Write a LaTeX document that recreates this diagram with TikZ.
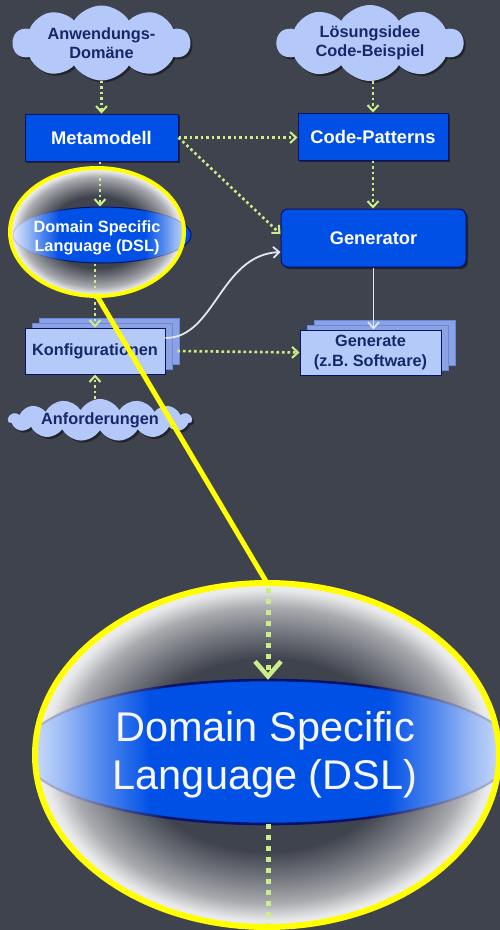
\documentclass[tikz,border=0pt]{standalone}
\usepackage{fontspec}
\setmainfont{Liberation Sans}
\usetikzlibrary{shapes.geometric,shapes.symbols,arrows.meta,shadows}

\definecolor{bgc}{RGB}{63,67,77}
\definecolor{cloudfill}{RGB}{180,200,250}
\definecolor{navytext}{RGB}{22,40,105}
\definecolor{boxblue}{RGB}{0,80,230}
\definecolor{boxedge}{RGB}{8,18,105}
\definecolor{stackfront}{RGB}{180,203,250}
\definecolor{stackback}{RGB}{140,162,225}
\definecolor{stackedge}{RGB}{100,135,232}
\definecolor{dotgreen}{RGB}{204,238,136}
\definecolor{flowwhite}{RGB}{225,230,242}
\definecolor{lensyellow}{RGB}{255,255,0}

% glassy ring of the magnifier: dark middle, bright rim
\pgfdeclareradialshading{lensring}{\pgfpointorigin}{%
  color(0bp)=(bgc); color(14bp)=(bgc); color(18bp)=(bgc!72!white);
  color(21.5bp)=(bgc!45!white); color(24bp)=(bgc!12!white);
  color(25bp)=(white!92!bgc); color(50bp)=(white!92!bgc)}
% DSL ellipse seen through the lens: blue core, washed-out ends
\pgfdeclarehorizontalshading{dslfade}{100bp}{%
  color(0bp)=(white!86!boxblue); color(25bp)=(white!86!boxblue);
  color(29bp)=(white!62!boxblue); color(33bp)=(white!32!boxblue);
  color(38bp)=(boxblue); color(62bp)=(boxblue);
  color(67bp)=(white!32!boxblue); color(71bp)=(white!62!boxblue);
  color(75bp)=(white!86!boxblue); color(100bp)=(white!86!boxblue)}
% outline of that ellipse, fading the same way
\pgfdeclarehorizontalshading{edgefade}{100bp}{%
  color(0bp)=(boxedge!25!white); color(25bp)=(boxedge!25!white);
  color(30bp)=(boxedge!45!white); color(36bp)=(boxedge!80!white);
  color(40bp)=(boxedge); color(60bp)=(boxedge);
  color(64bp)=(boxedge!80!white); color(70bp)=(boxedge!45!white);
  color(75bp)=(boxedge!25!white); color(100bp)=(boxedge!25!white)}

\tikzset{
  boxshadow/.style={drop shadow={shadow xshift=2pt,shadow yshift=-2pt,opacity=.45,fill=black}},
  bluebox/.style={rectangle, draw=boxedge, line width=1pt, fill=boxblue, text=white,
    font=\fontsize{18.3}{21}\selectfont\bfseries, inner sep=0pt, boxshadow},
  wolke/.style={cloud, cloud ignores aspect, fill=cloudfill, draw=none, text=navytext,
    font=\fontsize{16.3}{19}\selectfont\bfseries, align=center, inner sep=0pt, boxshadow},
  stapel/.style={rectangle, draw=boxedge, line width=1pt, fill=stackfront, text=navytext,
    font=\fontsize{16.3}{20}\selectfont\bfseries, align=center, inner sep=0pt,
    double copy shadow={shadow xshift=7pt,shadow yshift=5pt,fill=stackback,draw=stackedge,line width=1pt}},
  dslshape/.style={ellipse, draw=boxedge, line width=1pt, fill=boxblue, inner sep=0pt},
  dsltext/.style={text=white, font=\fontsize{16.3}{19}\selectfont\bfseries, align=center, inner sep=0pt},
  lensnode/.style={ellipse, draw=lensyellow, inner sep=0pt, outer sep=0pt},
  dotflow/.style={draw=dotgreen, line width=2.6pt, dash pattern=on 2.6pt off 2.9pt,
    -{Straight Barb[length=6pt,width=11pt,line width=2pt]}},
  bigdotflow/.style={draw=dotgreen, line width=5pt, dash pattern=on 5pt off 6pt,
    -{Straight Barb[length=15pt,width=26pt,line width=4.5pt]}},
  solidflow/.style={draw=flowwhite, line width=1.8pt,
    -{Straight Barb[length=6pt,width=11pt,line width=1.8pt]}},
}

\begin{document}
\begin{tikzpicture}[x=1pt,y=-1pt]
\path[fill=bgc, use as bounding box] (0,0) rectangle (500,930);

% ---------- sources ----------
\node[wolke, cloud puffs=10, cloud puff arc=115, minimum width=177pt, minimum height=75pt]
  (cloudA) at (101.5,43) {Anwendungs-\\Domäne};
\node[wolke, cloud puffs=10, cloud puff arc=115, minimum width=186pt, minimum height=76pt]
  (cloudL) at (370,43) {Lösungsidee\\Code-Beispiel};
\node[wolke, cloud puffs=15, cloud puff arc=120, minimum width=184pt, minimum height=42pt]
  (cloudF) at (100,420) {Anforderungen};

% ---------- main blocks ----------
\node[bluebox, minimum width=153pt, minimum height=47pt] (meta) at (101.5,137.5) {Metamodell};
\node[bluebox, minimum width=150pt, minimum height=47pt] (code) at (373,136.5) {Code-Patterns};
\node[bluebox, rounded corners=7pt, minimum width=185pt, minimum height=58pt] (gen) at (373.5,238) {Generator};
\node[stapel, minimum width=140pt, minimum height=46pt] (konf) at (95,351) {Konfigurationen};
\node[stapel, minimum width=141pt, minimum height=45pt] (genr) at (370.5,352.5) {Generate\\(z.B. Software)};

% ---------- DSL ellipse with the small magnifier over it ----------
\node[dslshape, minimum width=178pt, minimum height=56pt] (dsl) at (102,235) {};
\begin{scope}
  \clip (97,232) ellipse [x radius=87pt, y radius=64pt];
  \shade[shading=lensring] (97,232) ellipse [x radius=87pt, y radius=64pt];
  \shade[shading=dslfade] (102,235) ellipse [x radius=89pt, y radius=28pt];
  \begin{scope}[even odd rule]
    \clip (102,235) ellipse [x radius=89.5pt, y radius=28.5pt]
          (102,235) ellipse [x radius=88.5pt, y radius=27.5pt];
    \shade[shading=edgefade] (13,200) rectangle (191,270);
  \end{scope}
\end{scope}
\node[dsltext] (dsllabel) at (97,238) {Domain Specific\\Language (DSL)};

% ---------- connectors ----------
\draw[dotflow] (cloudA.south) -- (meta.north);
\draw[dotflow] (code.north |- cloudL.south) -- (code.north);
\draw[dotflow] (meta.east) -- (meta.east -| code.west);
\draw[dotflow] (meta.east) -- ([yshift=4pt]gen.west);
\draw[dotflow] (code.south) -- (code.south |- gen.north);
\draw[dotflow] ([xshift=-1.5pt]meta.south) -- ([xshift=-1.5pt]meta.south |- dsl.north);
\draw[dotflow] (konf.north |- dsl.south) -- (konf.north);
\draw[dotflow] (konf.south |- cloudF.north) -- (konf.south);
\draw[dotflow] ([xshift=12pt]konf.east) -- (genr.west);
\draw[solidflow] (gen.south) -- (gen.south |- genr.north);
\draw[solidflow] ([yshift=13pt]konf.east) .. controls (215,338) and (220,255) .. ([yshift=-14pt]gen.west);

% ---------- enlarged view ----------
\node[lensnode, minimum width=464pt, minimum height=344pt] (lensL) at (267,755) {};
\begin{scope}
  \clip (267,755) ellipse [x radius=232pt, y radius=172pt];
  \shade[shading=lensring] (267,755) ellipse [x radius=232pt, y radius=172pt];
  \node[ellipse, inner sep=0pt, minimum width=490pt, minimum height=144pt] (dslbig) at (268,752) {};
  \shade[shading=dslfade] (268,752) ellipse [x radius=245pt, y radius=72pt];
  \begin{scope}[even odd rule]
    \clip (268,752) ellipse [x radius=246.3pt, y radius=73.3pt]
          (268,752) ellipse [x radius=243.7pt, y radius=70.7pt];
    \shade[shading=edgefade] (23,670) rectangle (513,835);
  \end{scope}
  \coordinate (zoomtop) at (268,588);
  \coordinate (zoombot) at (268,940);
  \draw[bigdotflow] (zoomtop) -- (dslbig.north);
  \draw[bigdotflow, -] (dslbig.south) -- (zoombot);
  \node[text=white!94!gray, font=\fontsize{41.5}{48}\selectfont, align=center, inner sep=0pt]
    (dslbiglabel) at (265,755) {Domain Specific\\Language (DSL)};
\end{scope}

% ---------- magnifier outlines ----------
\node[lensnode, line width=4pt, minimum width=174pt, minimum height=128pt] (lensS) at (97,232) {};
\draw[lensyellow, line width=5pt] (lensS.south) -- (lensL.north);
\node[lensnode, line width=6pt, minimum width=464pt, minimum height=344pt] (lensLrim) at (lensL.center) {};
\end{tikzpicture}
\end{document}
